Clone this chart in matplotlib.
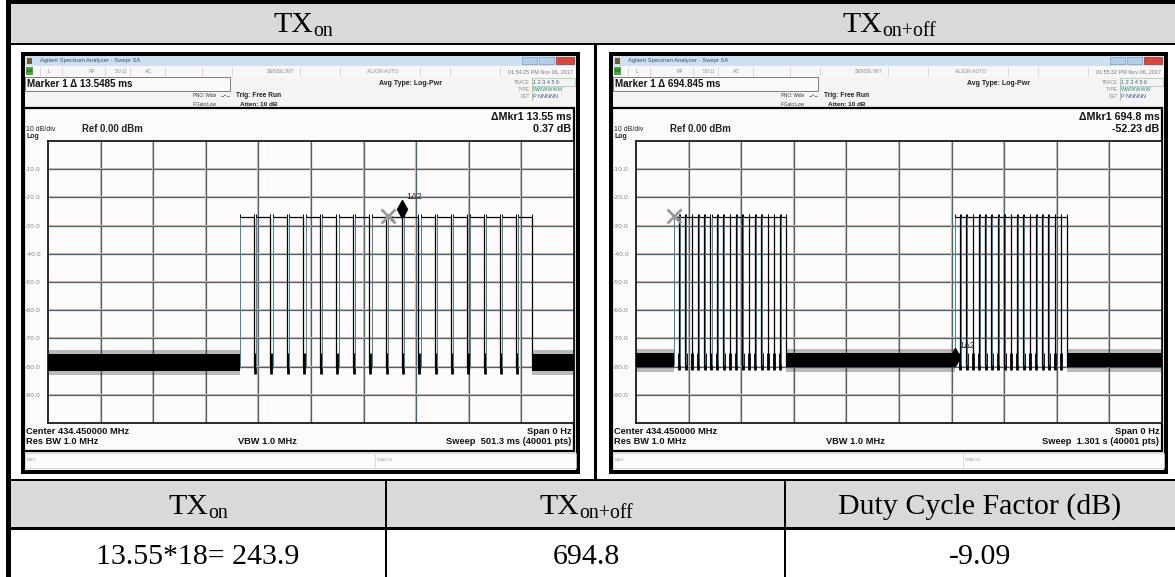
import matplotlib
matplotlib.use("Agg")
import matplotlib.pyplot as plt
from matplotlib.patches import Rectangle

# ---------------- data ----------------
# TX on capture: one burst, 501.3 ms sweep
sweep_on_ms = 501.3
bursts_on_ms = [183.0]
marker2_on_ms = 323.6
delta_on_ms = 13.55
delta_on_db = 0.37

# TX on+off capture: two bursts, 1.301 s sweep
sweep_onoff_ms = 1301.0
bursts_onoff_ms = [93.0]
marker2_onoff_ms = 93.0
delta_onoff_ms = 694.8
delta_onoff_db = -52.23

# pulse starts inside one burst (ms from burst start) and pulse length
pulse_offsets_ms = [0.0, 15.4, 31.0, 46.3, 62.5, 77.7, 93.9, 109.2, 125.4,
                    140.6, 155.9, 172.1, 187.3, 203.1, 218.8, 234.0, 249.3, 264.5]
pulse_width_ms = 13.55
pulse_level_dbm = -27.0
noise_on_dbm = (-81.5, -75.5)
noise_onoff_dbm = (-80.3, -75.3)

y_tick_values = [-10.0, -20.0, -30.0, -40.0, -50.0, -60.0, -70.0, -80.0, -90.0]

# summary table
summary_headers = [("TX", "on"), ("TX", "on+off"), ("Duty Cycle Factor (dB)", "")]
summary_values = ["13.55*18= 243.9", "694.8", "-9.09"]
top_headers = [("TX", "on"), ("TX", "on+off")]

# ---------------- figure ----------------
W, H = 1175, 577
fig = plt.figure(figsize=(W / 100, H / 100), dpi=100)
base = fig.add_axes([0, 0, 1, 1])
base.set_xlim(0, W)
base.set_ylim(H, 0)
base.axis("off")

SANS = "Liberation Sans"
SERIF = "Liberation Serif"
GRAY_CELL = "#d9d9d9"


def box(x0, y0, x1, y1, fc, ec="none", lw=0.0, z=1):
    base.add_patch(Rectangle((x0, y0), x1 - x0, y1 - y0, facecolor=fc,
                             edgecolor=ec, linewidth=lw, zorder=z))


def txt(x, y, s, size, ha="left", va="center", bold=False, color="black",
        family=SANS, z=6):
    return base.text(x, y, s, fontsize=size, ha=ha, va=va, color=color,
                     fontweight="bold" if bold else "normal", family=family,
                     zorder=z)


renderer = fig.canvas.get_renderer()


def sub_label(cx, y, main, sub, size):
    t1 = txt(0, y, main, size, va="baseline", family=SERIF)
    w1 = t1.get_window_extent(renderer).width
    w2 = 0
    t2 = None
    if sub:
        t2 = txt(0, y + 3.5, sub, size * 0.66, va="baseline", family=SERIF)
        w2 = t2.get_window_extent(renderer).width
    x0 = cx - (w1 + w2) / 2
    t1.set_x(x0)
    if t2 is not None:
        t2.set_x(x0 + w1)


# ---------------- table ----------------
box(11, 4, W, 43, GRAY_CELL)
box(11, 481, W, 527.5, GRAY_CELL)
box(6, 0, W, 4.2, "black", z=3)
box(6, 42.5, W, 45.3, "black", z=3)
box(6, 0, 11, H, "black", z=3)
box(593.5, 43, 596.5, 480, "black", z=3)
box(6, 478.5, W, 481.3, "black", z=3)
box(6, 527.2, W, 529.6, "black", z=3)
box(385, 480, 387.4, H, "black", z=3)
box(784, 480, 786.4, H, "black", z=3)

sub_label(303, 32.5, top_headers[0][0], top_headers[0][1], 21.5)
sub_label(889, 32.5, top_headers[1][0], top_headers[1][1], 21.5)

col_centers = [198, 586, 980]
for cx, (m, s) in zip(col_centers, summary_headers):
    sub_label(cx, 514, m, s, 21.5)
for cx, v in zip(col_centers, summary_values):
    txt(cx, 564, v, 21.5, ha="center", va="baseline", family=SERIF)


# ---------------- analyser screens ----------------
def screen(dx, stamp, marker_text, dmkr_t, dmkr_db, sweep_text):
    box(21 + dx, 52, 580 + dx, 474, "black", z=2)
    box(25 + dx, 56, 576 + dx, 470, "#f6f3f3", z=2)
    # title bar
    box(25 + dx, 56, 576 + dx, 65.5, "#cfe0f0", z=2)
    box(26.5 + dx, 57.5, 31.5 + dx, 63.5, "#6b5a3a", z=3)
    txt(40 + dx, 60.8, "Agilent Spectrum Analyzer - Swept SA", 4.2, color="#3c4c66")
    box(522 + dx, 57.3, 537 + dx, 64.3, "#b5cde8", ec="#7e9fc4", lw=0.5, z=3)
    box(538.5 + dx, 57.3, 554 + dx, 64.3, "#b5cde8", ec="#7e9fc4", lw=0.5, z=3)
    box(555.5 + dx, 57.3, 573.5 + dx, 64.3, "#d9473c", ec="#a03028", lw=0.5, z=3)
    # status row
    box(25 + dx, 66, 576 + dx, 76.5, "#f8f6f6", z=2)
    box(26 + dx, 67.3, 33 + dx, 75.3, "#45a838", z=3)
    txt(29.5 + dx, 71.5, "LXI", 3.0, ha="center", color="#0d3d0a")
    for sx in [40, 62, 105, 130, 165, 202, 232, 300, 340, 420, 450, 500]:
        base.plot([sx + dx, sx + dx], [67, 76], color="#d0cccc", lw=0.5, zorder=3)
    for sx, s in [(48, "L"), (89, "RF"), (115, "50 Ω"), (145, "AC"),
                  (267, "SENSE:INT"), (367, "ALIGN AUTO")]:
        txt(sx + dx, 71.6, s, 3.8, color="#8c8c8c")
    txt(573 + dx, 71.6, stamp, 3.9, ha="right", color="#7a7a7a")
    # marker / settings row
    box(25 + dx, 77, 230 + dx, 90.5, "#fbfafa", ec="#6a6a6a", lw=0.6, z=3)
    txt(27 + dx, 83.6, marker_text, 7.1, bold=True, color="#111")
    txt(193 + dx, 95.2, "PNO: Wide", 3.3, color="#333")
    txt(193 + dx, 104.2, "IFGain:Low", 3.3, color="#333")
    txt(220 + dx, 95.2, "→•←", 3.6, color="#333")
    txt(236 + dx, 95.4, "Trig: Free Run", 4.8, bold=True, color="#222")
    txt(240 + dx, 104.2, "Atten: 10 dB", 4.6, bold=True, color="#222")
    txt(379 + dx, 83.3, "Avg Type: Log-Pwr", 5.0, bold=True, color="#222")
    txt(530 + dx, 82.2, "TRACE", 3.3, ha="right", color="#888")
    txt(530 + dx, 89.4, "TYPE", 3.3, ha="right", color="#888")
    txt(530 + dx, 96.6, "DET", 3.3, ha="right", color="#888")
    box(531.5 + dx, 78.3, 575 + dx, 86, "none", ec="#9cc99c", lw=0.5, z=3)
    base.plot([531.5 + dx, 531.5 + dx], [78, 100], color="#9cc99c", lw=0.6, zorder=3)
    txt(533 + dx, 82.2, "1 2 3 4 5 6", 4.0, color="#3a5a8a")
    txt(533 + dx, 89.4, "WWWWWW", 3.9, color="#2f8a86")
    txt(533 + dx, 96.6, "P NNNNN", 3.9, color="#3a5a8a")
    # measurement area
    box(23.5 + dx, 108, 573.8 + dx, 451, "#fdfafa", ec="black", lw=1.6, z=2)
    txt(571.5 + dx, 116.8, dmkr_t, 7.7, ha="right", bold=True, color="#111")
    txt(571.5 + dx, 129.3, dmkr_db, 7.7, ha="right", bold=True, color="#111")
    txt(26.5 + dx, 129.8, "10 dB/div", 5.0, color="#222")
    txt(82 + dx, 128.8, "Ref 0.00 dBm", 6.9, bold=True, color="#222")
    txt(26.5 + dx, 136.0, "Log", 5.0, bold=True, color="#222")
    txt(26.5 + dx, 431.6, "Center 434.450000 MHz", 6.7, bold=True, color="#111")
    txt(571.5 + dx, 431.6, "Span 0 Hz", 6.7, ha="right", bold=True, color="#111")
    txt(26.5 + dx, 442.0, "Res BW 1.0 MHz", 6.7, bold=True, color="#111")
    txt(238 + dx, 442.0, "VBW 1.0 MHz", 6.7, bold=True, color="#111")
    txt(571.5 + dx, 442.0, sweep_text, 6.7, ha="right", bold=True, color="#111")
    # message bar
    box(25 + dx, 453, 576 + dx, 467.5, "#fbfbfb", ec="#c8c8c8", lw=0.5, z=2)
    base.plot([375 + dx, 375 + dx], [453.5, 467], color="#c8c8c8", lw=0.5, zorder=3)
    txt(27 + dx, 460.3, "MSG", 3.0, color="#999")
    txt(377 + dx, 460.3, "STATUS", 3.0, color="#999")


screen(0, "01:54:25 PM Nov 06, 2017",
       "Marker 1 Δ %.4f ms" % 13.5485,
       "ΔMkr1 %.2f ms" % delta_on_ms, "%.2f dB" % delta_on_db,
       "Sweep  %.1f ms (40001 pts)" % sweep_on_ms)
screen(588, "01:55:32 PM Nov 06, 2017",
       "Marker 1 Δ %.3f ms" % 694.845,
       "ΔMkr1 %.1f ms" % delta_onoff_ms, "%.2f dB" % delta_onoff_db,
       "Sweep  %.3f s (40001 pts)" % (sweep_onoff_ms / 1000))


# ---------------- traces ----------------
def trace_axes(x0, y0, x1, y1, sweep, bursts, noise, m2_t, d_t, d_db):
    ax = fig.add_axes([x0 / W, 1 - y1 / H, (x1 - x0) / W, (y1 - y0) / H])
    ax.set_xlim(0, sweep)
    ax.set_ylim(-100, 0)
    ax.set_facecolor("#fdfbfb")
    ax.set_xticks([])
    ax.set_yticks(y_tick_values, ["%.1f" % v for v in y_tick_values])
    ax.tick_params(axis="y", length=0, pad=5, labelsize=4.4, labelcolor="#808080")
    for s in ax.spines.values():
        s.set_color("#1a1a1a")
        s.set_linewidth(1.3)
    px = sweep / (x1 - x0)
    py = 100 / (y1 - y0)
    for i in range(1, 10):
        gx = sweep * i / 10
        ax.axvline(gx - px, color="#f0b89a", lw=0.7, zorder=1)
        ax.axvline(gx, color="#3d6880", lw=0.9, zorder=1)
        gy = -10 * i
        ax.axhline(gy + py, color="#f0b89a", lw=0.7, zorder=1)
        ax.axhline(gy, color="#3d6880", lw=0.9, zorder=1)

    lo, hi = noise
    spans = []
    starts, ends = [], []
    for b in bursts:
        st = [b + o for o in pulse_offsets_ms]
        en = [s + pulse_width_ms for s in st]
        starts += st
        ends += en
        spans.append((st[0], en[-1]))
        # gaps between pulses: short noise stubs
        mids = [(e + s) / 2 for e, s in zip(en[:-1], st[1:])]
        ax.vlines(mids, [lo - 1.0] * len(mids), [hi + 0.2] * len(mids),
                  color="black", lw=2.0, zorder=4)
    # noise floor outside the bursts
    edges = [0.0]
    for a, b in spans:
        edges += [a, b]
    edges.append(sweep)
    for a, b in zip(edges[0::2], edges[1::2]):
        ax.fill_between([a, b], [lo - 1.6] * 2, [hi + 1.4] * 2, color="#222222",
                        alpha=0.3, lw=0, zorder=3)
        ax.fill_between([a, b], [lo] * 2, [hi] * 2, color="black", lw=0, zorder=3)
    # pulses
    n = len(starts)
    top = [pulse_level_dbm] * n
    bot = [lo + 1] * n
    tick = [pulse_level_dbm + 1.2] * n
    ax.hlines(top, starts, ends, color="black", lw=0.9, zorder=4)
    ax.vlines(starts, bot, top, color="#4a7f9a", lw=0.7, zorder=4)
    ax.vlines(ends, bot, top, color="black", lw=0.9, zorder=4)
    ax.vlines(starts, top, tick, color="black", lw=0.7, zorder=4)
    ax.vlines(ends, top, tick, color="black", lw=0.7, zorder=4)

    # markers: reference (2) and delta (1)
    m2_lvl = pulse_level_dbm
    m1_t = m2_t + d_t
    m1_lvl = m2_lvl + d_db
    ax.plot([m2_t], [m2_lvl + 0.5], marker="x", ms=10, mew=2.0, color="#9a9a9a", zorder=6)
    ax.text(m2_t + 3.5 * px, m2_lvl - 1.5, "2", fontsize=5.5, color="#888",
            family=SANS, fontweight="bold", zorder=6)
    ax.plot([m1_t], [m1_lvl + 2.6], marker="d", ms=9, color="black", zorder=6)
    ax.text(m1_t + 4.5 * px, m1_lvl + 6.0, "1Δ2", fontsize=6.3, color="#222",
            family=SANS, zorder=6)
    return ax


trace_axes(48, 141, 574, 423, sweep_on_ms, bursts_on_ms, noise_on_dbm,
           marker2_on_ms, delta_on_ms, delta_on_db)
trace_axes(636, 141, 1162, 423, sweep_onoff_ms,
           bursts_onoff_ms + [bursts_onoff_ms[0] + delta_onoff_ms],
           noise_onoff_dbm, marker2_onoff_ms, delta_onoff_ms, delta_onoff_db)

fig.savefig("out.png", dpi=100)
